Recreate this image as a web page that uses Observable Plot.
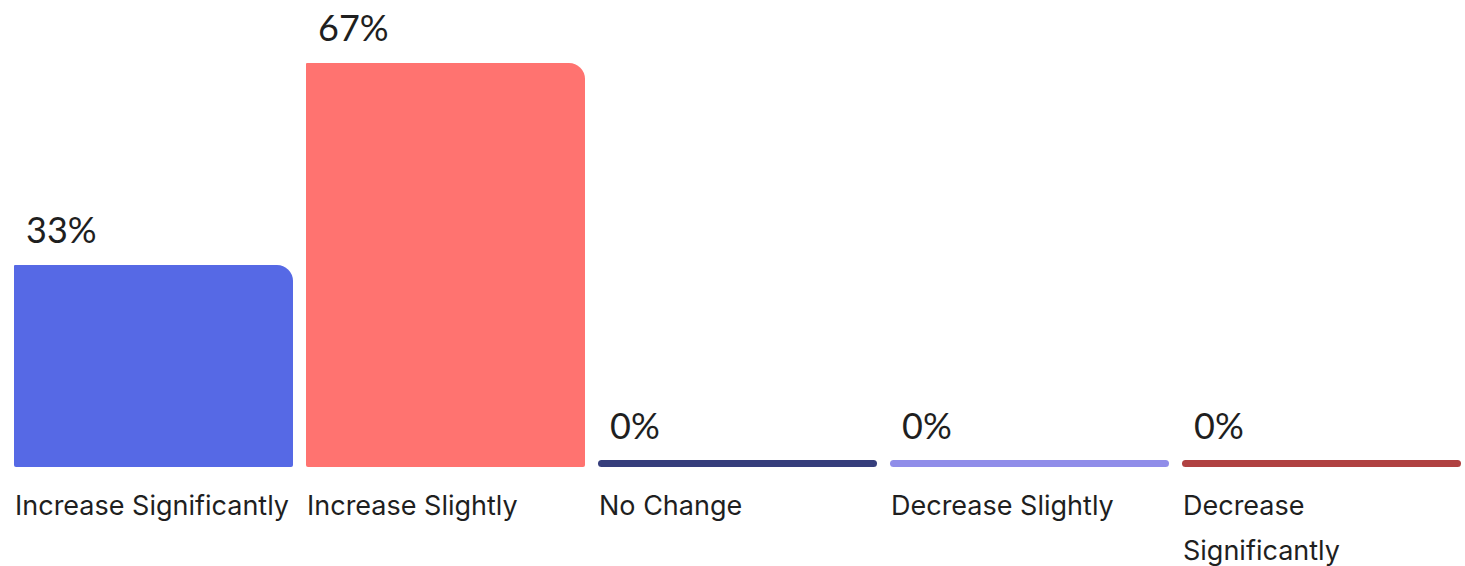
<!DOCTYPE html>
<html>
<head>
<meta charset="utf-8">
<script src="https://cdn.jsdelivr.net/npm/d3@7"></script>
<script src="https://cdn.jsdelivr.net/npm/@observablehq/plot@0.6"></script>
<style>
  html, body { margin: 0; padding: 0; background: #ffffff; }
  #chart svg { display: block; font-family: Lato, "Open Sans", sans-serif; }
</style>
</head>
<body>
<div id="chart"></div>
<script>
const categories = ["Increase Significantly", "Increase Slightly", "No Change", "Decrease Slightly", "Decrease Significantly"];
const tickLabels = ["Increase Significantly", "Increase Slightly", "No Change", "Decrease Slightly", "Decrease\nSignificantly"];
const values = [33.33, 66.67, 0, 0, 0];
const valueLabels = ["33%", "67%", "0%", "0%", "0%"];
const colors = ["#5669E5", "#FF7370", "#363E7C", "#908DE9", "#B04141"];

const data = categories.map((c, i) => ({cat: c, value: values[i], label: valueLabels[i]}));
const nonzero = data.filter(d => d.value > 0);
const zero = data.filter(d => d.value === 0);
const tickMap = new Map(categories.map((c, i) => [c, tickLabels[i]]));

const chart = Plot.plot({
  width: 1465,
  height: 566,
  marginLeft: 14,
  marginRight: 4,
  marginTop: 63,
  marginBottom: 99,
  style: {fontFamily: "Lato, 'Open Sans', sans-serif", background: "#ffffff"},
  x: {domain: categories, paddingInner: 0.045, paddingOuter: 0, label: null},
  y: {domain: [0, 66.67], axis: null},
  color: {domain: categories, range: colors},
  marks: [
    Plot.barY(nonzero, {x: "cat", y: "value", fill: "cat",
      rx1y1: 1, rx2y1: 16, rx1y2: 2, rx2y2: 2}),
    Plot.barY(zero, {x: "cat", y: "value", fill: "cat", insetTop: -7, rx: 3.5}),
    Plot.text(nonzero, {x: "cat", y: "value", text: "label", textAnchor: "start",
      dx: -128, dy: -23, lineAnchor: "bottom", fontSize: 36, fill: "#1f1f1f"}),
    Plot.text(zero, {x: "cat", y: "value", text: "label", textAnchor: "start",
      dx: -128, dy: -29, lineAnchor: "bottom", fontSize: 36, fill: "#1f1f1f"}),
    Plot.axisX({tickSize: 0, tickPadding: 16, textAnchor: "start", dx: -139,
      fontSize: 27, fontFamily: "Inter, 'Open Sans', sans-serif", lineHeight: 1.66,
      fill: "#1f1f1f", label: null,
      tickFormat: d => tickMap.get(d)})
  ]
});
document.getElementById("chart").appendChild(chart);
</script>
</body>
</html>
